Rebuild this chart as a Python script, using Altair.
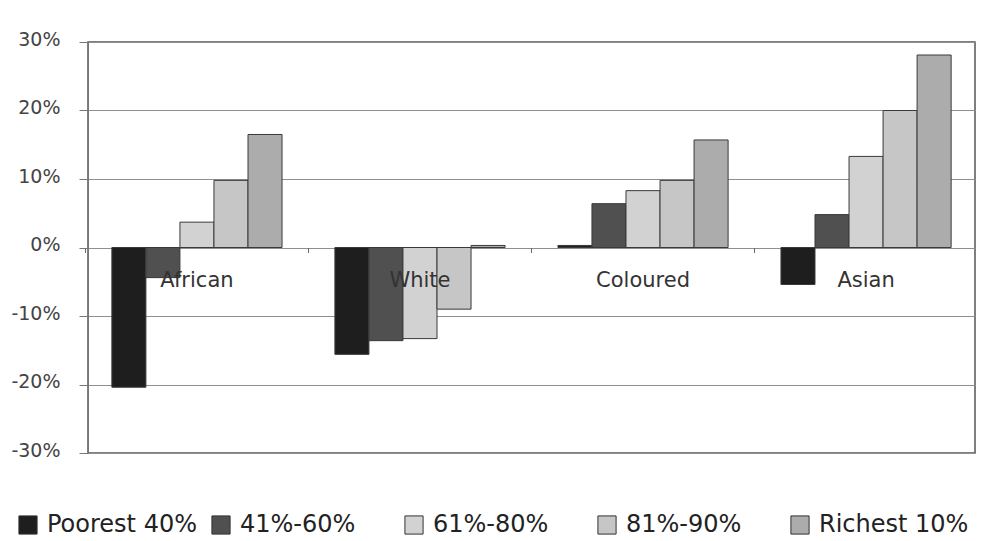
import altair as alt
import pandas as pd

groups = ["African", "White", "Coloured", "Asian"]
quintiles = ["Poorest 40%", "41%-60%", "61%-80%", "81%-90%", "Richest 10%"]
african = [-20.4, -4.4, 3.7, 9.8, 16.5]
white = [-15.6, -13.6, -13.3, -9.0, 0.3]
coloured = [0.3, 6.4, 8.3, 9.8, 15.7]
asian = [-5.4, 4.8, 13.3, 20.0, 28.1]
colors = ["#1e1e1e", "#505050", "#d2d2d2", "#c6c6c6", "#acacac"]
y_ticks = [-30, -20, -10, 0, 10, 20, 30]

rows = []
for g, vals in zip(groups, [african, white, coloured, asian]):
    for q, v in zip(quintiles, vals):
        rows.append({"group": g, "quintile": q, "value": v})
df = pd.DataFrame(rows)
labels_df = pd.DataFrame({"group": groups})

FONT = "DejaVu Sans"

bars = alt.Chart(df).mark_bar(stroke="#3a3a3a", strokeWidth=1).encode(
    x=alt.X("group:N", sort=groups,
            scale=alt.Scale(paddingInner=0.237, paddingOuter=0.107),
            axis=alt.Axis(title=None, labels=False, domain=False, grid=False,
                          ticks=True, tickSize=5, tickColor="#666",
                          bandPosition=-0.155, offset=-205.5)),
    xOffset=alt.XOffset("quintile:N", sort=quintiles,
                        scale=alt.Scale(paddingInner=0, paddingOuter=0)),
    y=alt.Y("value:Q",
            scale=alt.Scale(domain=[-30, 30], nice=False, zero=False),
            axis=alt.Axis(values=y_ticks, title=None, grid=True,
                          labelExpr="(datum.value < 0 ? '-' : '') + abs(datum.value) + '%'",
                          labelFont=FONT, labelFontSize=19, labelColor="#444",
                          labelPadding=19, labelOffset=-3,
                          tickSize=9, tickColor="#777",
                          domainColor="#777", gridColor="#8f8f8f")),
    fill=alt.Fill("quintile:N", sort=quintiles,
                  scale=alt.Scale(domain=quintiles, range=colors),
                  legend=alt.Legend(orient="none", legendX=-72, legendY=471,
                                    direction="horizontal", columns=5, title=None,
                                    symbolType="square", symbolSize=330,
                                    symbolStrokeColor="#333", symbolStrokeWidth=1,
                                    labelFont=FONT, labelFontSize=24, labelColor="#222",
                                    columnPadding=12, gridAlign="all",
                                    labelLimit=300, labelOffset=7)),
)

text = alt.Chart(labels_df).mark_text(
    font=FONT, fontSize=21, color="#333", dy=33, baseline="middle"
).encode(
    x=alt.X("group:N", sort=groups),
    y=alt.datum(0),
    text="group:N",
)

chart = alt.layer(bars, text).properties(
    width=887, height=411,
    padding={"left": 80, "top": 34, "right": 2, "bottom": 88},
    autosize=alt.AutoSizeParams(type="none"),
    background="white",
).configure_view(stroke="#555", strokeWidth=1.5)

chart.save("out.html", embed_options={"renderer": "svg", "actions": False})
